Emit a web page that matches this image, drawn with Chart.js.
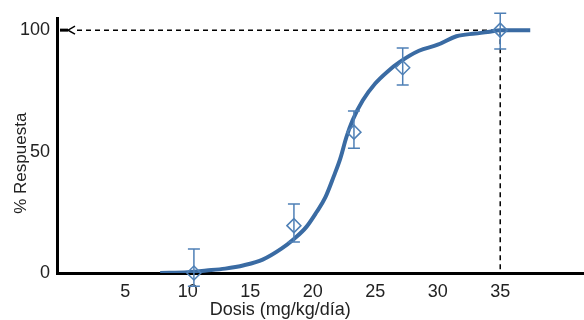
<!DOCTYPE html>
<html>
<head>
<meta charset="utf-8">
<script src="https://cdn.jsdelivr.net/npm/chart.js@4/dist/chart.umd.min.js"></script>
<style>
  html, body { margin: 0; padding: 0; background: #fff; overflow: hidden; }
  #wrap { width: 584px; height: 320px; position: relative; }
</style>
</head>
<body>
<div id="wrap"><canvas id="chart_dosis"></canvas></div>
<script>
// fitted dose-response curve
const curveDose = [7.8, 10, 11.5, 13, 14.5, 16, 17.5, 18.5, 19.5, 20.3, 21, 21.7, 22.2, 22.7, 23.2, 24, 25, 26, 27, 28.5, 30, 31.5, 33, 34, 35, 37.4];
const curvePct  = [0, 0.3, 1, 1.8, 3.2, 5.5, 10, 14, 19, 25, 31, 40, 47, 56, 63, 71, 78, 83, 87, 91.5, 94, 97.5, 98.6, 99.2, 100, 100];

// observed points with error bars
const obsDose  = [10.5, 18.5, 23.3, 27.2, 35];
const obsPct   = [0, 19.5, 58, 84.5, 100];
const obsLow   = [-5.5, 12.8, 51.4, 77.4, 92.2];
const obsHigh  = [9.9, 28.4, 66.7, 92.6, 107];

// axis ticks
const xTicks = [5, 10, 15, 20, 25, 30, 35];
const yTicks = [0, 50, 100];

// dashed reference
const refDose = 35;
const refPct = 100;

const xTitle = 'Dosis (mg/kg/día)';
const yTitle = '% Respuesta';

const colors = {
    curve: '#3a6ba3',
    marker: '#4f80b6',
    text: '#222'
};

const errorBars = {
    id: 'errorBars',
    afterDatasetsDraw(chart) {
        const ctx = chart.ctx;
        const xs = chart.scales.x, ys = chart.scales.y;
        ctx.save();
        ctx.strokeStyle = colors.marker;
        ctx.lineWidth = 1.5;
        for (let i = 0; i < obsDose.length; i++) {
            const x = xs.getPixelForValue(obsDose[i]);
            const y1 = ys.getPixelForValue(obsLow[i]);
            const y2 = ys.getPixelForValue(obsHigh[i]);
            ctx.beginPath();
            ctx.moveTo(x, y1); ctx.lineTo(x, y2);
            ctx.moveTo(x - 6, y1); ctx.lineTo(x + 6, y1);
            ctx.moveTo(x - 6, y2); ctx.lineTo(x + 6, y2);
            ctx.stroke();
        }
        ctx.restore();
    }
};

const refLines = {
    id: 'refLines',
    beforeDatasetsDraw(chart) {
        const ctx = chart.ctx;
        const xs = chart.scales.x, ys = chart.scales.y;
        const left = chart.chartArea.left;
        const xr = xs.getPixelForValue(refDose);
        const yr = ys.getPixelForValue(refPct);
        const y0 = ys.getPixelForValue(0);
        ctx.save();
        ctx.strokeStyle = '#000';
        ctx.lineWidth = 1.5;
        ctx.setLineDash([5, 4]);
        ctx.beginPath();
        ctx.moveTo(left + 20, yr); ctx.lineTo(xr, yr);
        ctx.moveTo(xr, yr); ctx.lineTo(xr, y0);
        ctx.stroke();
        // arrow at the y axis
        ctx.setLineDash([]);
        ctx.lineWidth = 3;
        ctx.beginPath();
        ctx.moveTo(left + 3, yr); ctx.lineTo(left + 11, yr);
        ctx.stroke();
        ctx.lineWidth = 1.5;
        ctx.beginPath();
        ctx.moveTo(left + 18, yr - 4); ctx.lineTo(left + 11, yr); ctx.lineTo(left + 18, yr + 4);
        ctx.stroke();
        ctx.restore();
    }
};

// axis titles, placed like in the original figure (not centred on the plot)
const axisTitles = {
    id: 'axisTitles',
    afterDraw(chart) {
        const ctx = chart.ctx;
        ctx.save();
        ctx.fillStyle = colors.text;
        ctx.textAlign = 'center';
        ctx.textBaseline = 'middle';
        ctx.font = '18px "Liberation Sans", Arial, sans-serif';
        ctx.fillText(xTitle, chart.width * 0.48, chart.height - 10);
        ctx.translate(21, chart.height * 0.51);
        ctx.rotate(-Math.PI / 2);
        ctx.font = '17px "Liberation Sans", Arial, sans-serif';
        ctx.fillText(yTitle, 0, 0);
        ctx.restore();
    }
};

const ctx = document.getElementById('chart_dosis').getContext('2d');
const chart = new Chart(ctx, {
    type: 'scatter',
    data: {
        datasets: [
            {
                type: 'line',
                label: 'Curva',
                data: curveDose.map((d, i) => ({x: d, y: curvePct[i]})),
                borderColor: colors.curve,
                backgroundColor: colors.curve,
                borderWidth: 4,
                pointRadius: 0,
                cubicInterpolationMode: 'monotone',
                fill: false,
                order: 2
            },
            {
                label: 'Observado',
                data: obsDose.map((d, i) => ({x: d, y: obsPct[i]})),
                pointStyle: 'rectRot',
                pointRadius: 7,
                borderColor: colors.marker,
                backgroundColor: 'rgba(0,0,0,0)',
                borderWidth: 1.5,
                clip: false,
                order: 1
            }
        ]
    },
    options: {
        responsive: true,
        maintainAspectRatio: false,
        animation: false,
        layout: { autoPadding: false, padding: { top: 18, left: 0, right: 0, bottom: 0 } },
        plugins: {
            legend: { display: false },
            tooltip: { enabled: false }
        },
        scales: {
            x: {
                type: 'linear',
                min: -0.45,
                max: 41.7,
                afterBuildTicks: s => { s.ticks = xTicks.map(v => ({value: v})); },
                afterFit: s => { s.height = 47; },
                grid: { display: false, drawTicks: false },
                border: { display: true, color: '#000', width: 3 },
                ticks: { color: colors.text, padding: 8, maxRotation: 0, font: { family: 'Liberation Sans', size: 18 } }
            },
            y: {
                type: 'linear',
                min: 0,
                max: 105,
                afterBuildTicks: s => { s.ticks = yTicks.map(v => ({value: v})); },
                afterFit: s => { s.width = 57; },
                grid: { display: false, drawTicks: false },
                border: { display: true, color: '#000', width: 3 },
                ticks: { color: colors.text, padding: 7, font: { family: 'Liberation Sans', size: 18 } }
            }
        }
    },
    plugins: [refLines, errorBars, axisTitles]
});
</script>
</body>
</html>
